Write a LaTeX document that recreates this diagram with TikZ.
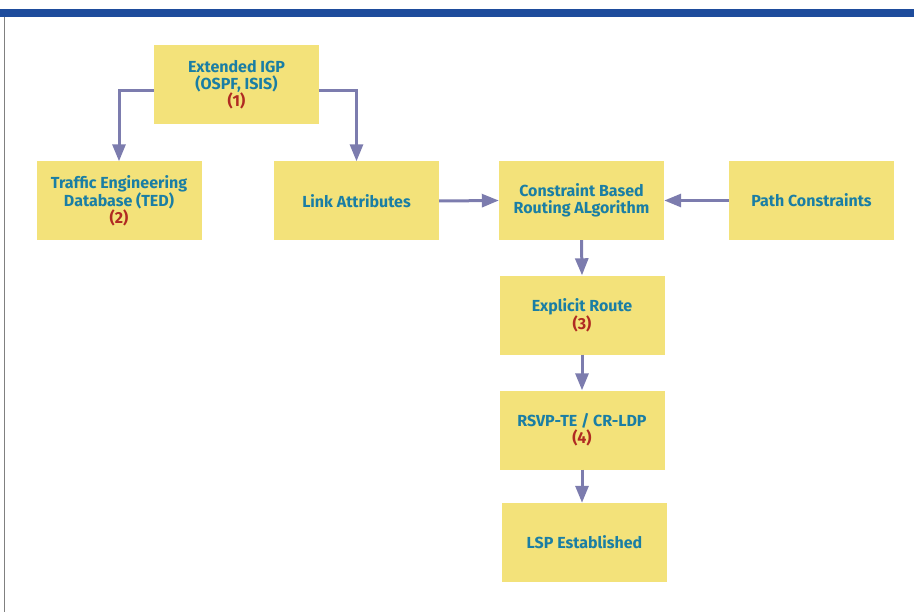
\documentclass[tikz,border=0pt]{standalone}
\usepackage{fontspec}
\setmainfont{Fira Sans}
\usetikzlibrary{arrows.meta}
\definecolor{boxfill}{HTML}{F3E27A}
\definecolor{txt}{HTML}{1A7EA4}
\definecolor{num}{HTML}{B02A22}
\definecolor{arr}{HTML}{7C7CAE}
\definecolor{bar}{HTML}{1E4C9C}
\tikzset{
  x=1pt,y=-1pt,
  blk/.style={fill=boxfill,draw=none,minimum width=165pt,minimum height=79pt,inner sep=0pt,
    align=center,text=txt,font=\fontsize{16}{17}\selectfont\bfseries},
  conn/.style={draw=arr,line width=3pt,-{Triangle[length=17pt,width=13pt]}},
}
\newcommand{\nm}[1]{\textcolor{num}{#1}}
\begin{document}
\begin{tikzpicture}
\useasboundingbox (0,0) rectangle (914,615);
\fill[bar] (0,9) rectangle (914,17);
\draw[gray,line width=1.2pt] (4.5,17) -- (4.5,612);
\node[blk] (igp) at (236.5,84.5) {Extended IGP\\(OSPF, ISIS)\\\nm{(1)}};
\node[blk] (ted) at (119,201) {Traffic Engineering\\Database (TED)\\\nm{(2)}};
\node[blk] (link) at (356.5,201) {Link Attributes};
\node[blk] (cbr) at (581.5,200.5) {Constraint Based\\Routing ALgorithm};
\node[blk] (path) at (811.5,200.5) {Path Constraints};
\node[blk] (er) at (582,315) {Explicit Route\\\nm{(3)}};
\node[blk] (rsvp) at (582,430) {RSVP-TE / CR-LDP\\\nm{(4)}};
\node[blk] (lsp) at (584.5,542.5) {LSP Established};
\draw[conn] (igp.west |- 0,91) -| (ted.north);
\draw[conn] (igp.east |- 0,91) -| (link.north);
\draw[conn] (link.east) -- (cbr.west);
\draw[conn] (path.west) -- (cbr.east);
\draw[conn] (cbr.south) -- (er.north);
\draw[conn] (er.south) -- (rsvp.north);
\draw[conn] (rsvp.south) -- (rsvp.south |- lsp.north);
\end{tikzpicture}
\end{document}
